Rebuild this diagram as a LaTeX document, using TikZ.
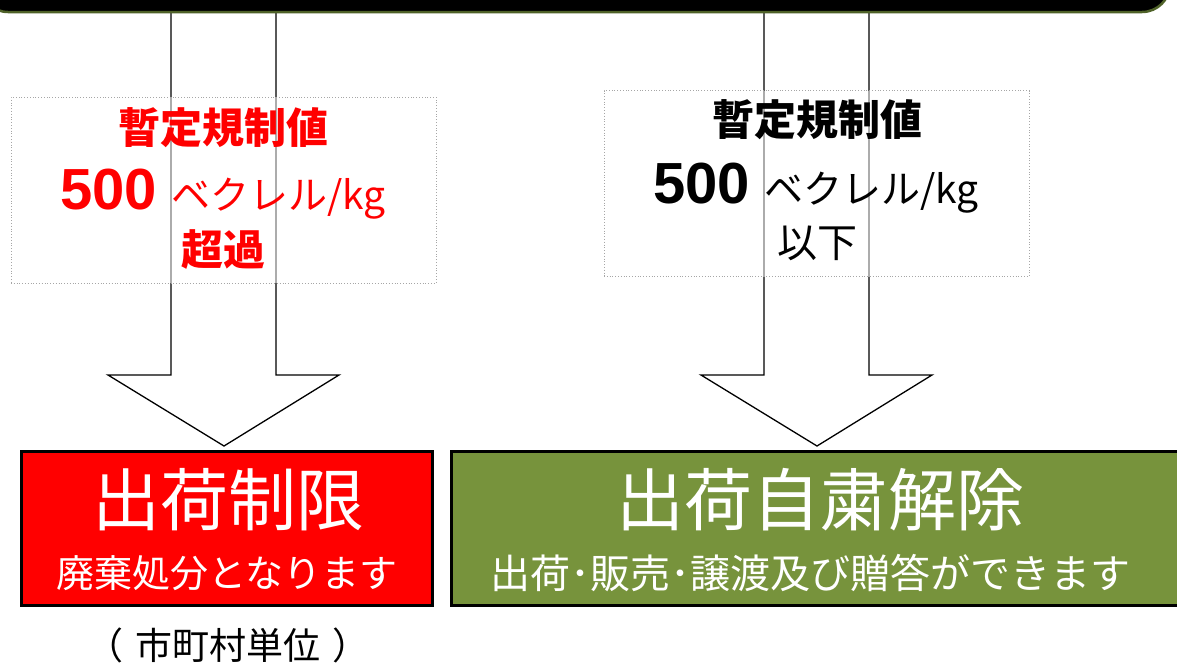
\documentclass[tikz,border=0pt]{standalone}
\usepackage{fontspec}
\setmainfont{Liberation Sans}
\newfontfamily\jp{Noto Sans CJK JP}
\usetikzlibrary{positioning}
\definecolor{shipgreen}{HTML}{77933C}
\definecolor{bargreen}{HTML}{4F6228}
\definecolor{limitred}{HTML}{FF0000}
\newcommand{\jpsize}[1]{\jp\fontsize{#1}{#1}\selectfont}
\begin{document}
\begin{tikzpicture}[x=1pt,y=-1pt,
    fatarrow/.style={draw=black,line width=1.3pt,fill=white},
    valuebox/.style={draw=gray!70,dotted,line width=0.8pt,fill=white,fill opacity=0.5,
      minimum width=425pt,minimum height=186pt,inner sep=0pt},
    resultbox/.style={draw=black,line width=3pt,minimum height=154pt,inner sep=0pt},
    txt/.style={inner sep=0pt,align=center}]
  \useasboundingbox (0,0) rectangle (1177,665);
  % arrows
  \coordinate (tipL) at (224,446);
  \coordinate (tipR) at (817,446);
  \draw[fatarrow] (171,12) -- (171,375) -- (108,375) -- (tipL)
    -- (339,375) -- (276,375) -- (276,12);
  \draw[fatarrow] (764,12) -- (764,375) -- (701,375) -- (tipR)
    -- (932,375) -- (869,375) -- (869,12);
  % top bar
  \draw[fill=black,draw=bargreen,line width=2.5pt,rounded corners=28pt]
    (-20,-60) rectangle (1170,12);
  % value boxes
  \node[valuebox] (over) at (223.4,190) {};
  \node[valuebox] (under) at (816.5,183.5) {};
  \node[txt,text=limitred] (overhead) at (223,128) {\jpsize{42}\bfseries 暫定規制値};
  \node[txt,text=limitred,anchor=base] (overval) at (223,209)
    {{\fontsize{58}{58}\selectfont\bfseries 500}\hspace{14pt}{\jpsize{39}ベクレル/kg}};
  \node[txt,text=limitred] (overtail) at (223,250) {\jpsize{42}\bfseries 超過};
  \node[txt] (underhead) at (817,120) {\jpsize{42}\bfseries 暫定規制値};
  \node[txt,anchor=base] (underval) at (816,203)
    {{\fontsize{58}{58}\selectfont\bfseries 500}\hspace{14pt}{\jpsize{39}ベクレル/kg}};
  \node[txt] (undertail) at (817,243) {\jpsize{40}以下};
  % result boxes
  \node[resultbox,fill=limitred,minimum width=411pt] (limit) at (227,528.5) {};
  \node[resultbox,fill=shipgreen,minimum width=733pt] (free) at (818,528.5) {};
  \node[txt,text=white] (limittitle) at (228,500) {\jpsize{68}出荷制限};
  \node[txt,text=white] (limitnote) at (227,573) {\jpsize{38}廃棄処分となります};
  \node[txt,text=white] (freetitle) at (820,500) {\jpsize{68}出荷自粛解除};
  \node[txt,text=white] (freenote) at (810,573) {\jpsize{40}出荷･販売･譲渡及び贈答ができます};
  \node[txt] (unit) at (228,645) {\jpsize{37}（\hspace{12pt}市町村単位\hspace{12pt}）};
\end{tikzpicture}
\end{document}
